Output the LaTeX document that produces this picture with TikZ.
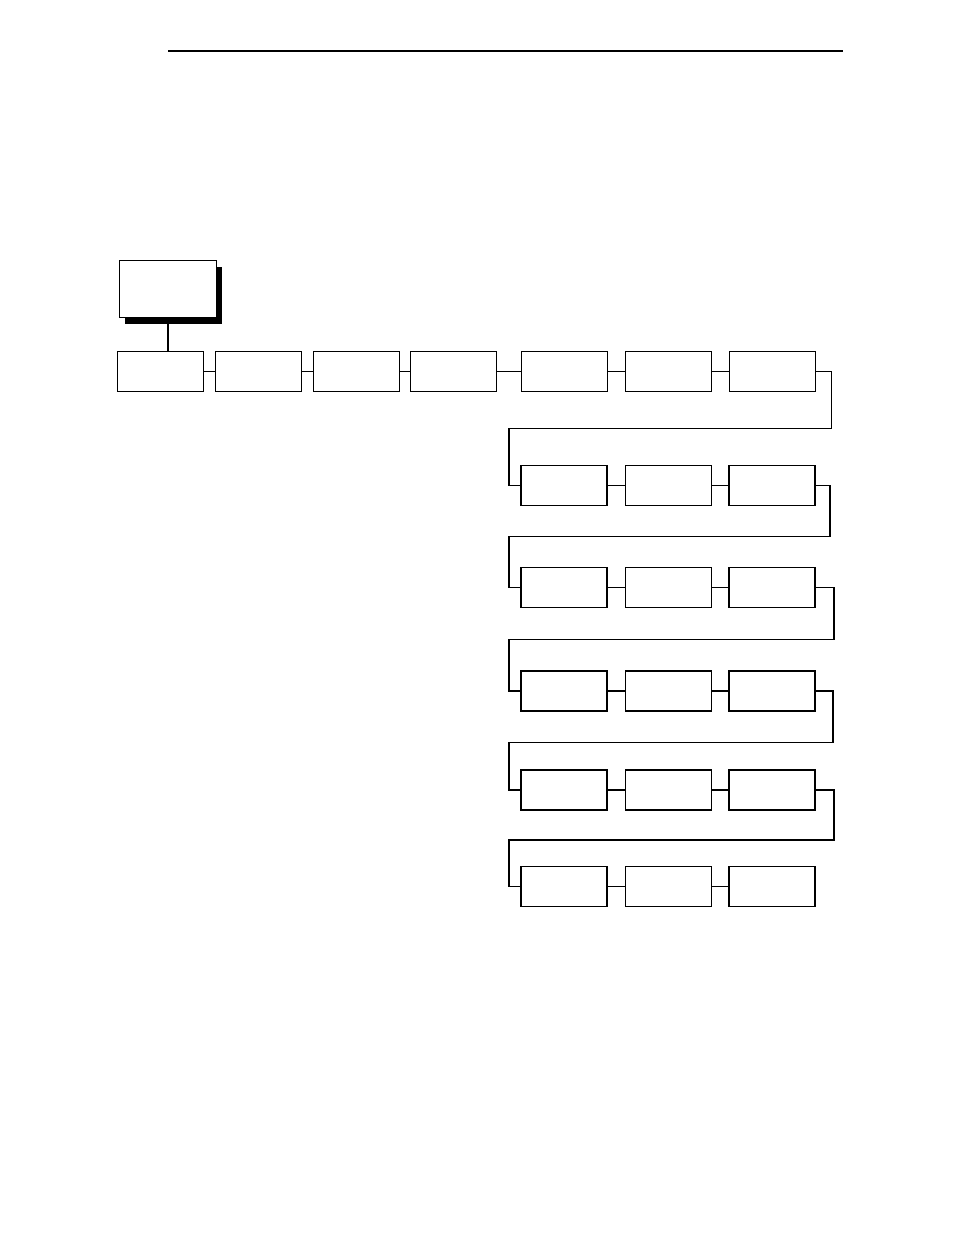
\documentclass[tikz,border=0pt]{standalone}
\usetikzlibrary{calc,shadows}
\begin{document}
\begin{tikzpicture}[x=1pt,y=-1pt,
mb/.style={draw, line width=1.2pt, fill=white, minimum width=86pt, minimum height=40pt, inner sep=0, outer sep=0},
topbox/.style={mb, minimum width=97pt, minimum height=57pt, drop shadow={shadow xshift=5.5pt, shadow yshift=-6pt, fill=black, opacity=1}},
ln/.style={line width=1.2pt}]
	\useasboundingbox (0,0) rectangle (954,1235);
	\draw[line width=2pt] (168,51) -- (843,51);
	\node[topbox] at (168,289) (menu) {};
	% first row
	\foreach \n/\x in {1/160.3,2/258.5,3/356.8,4/453.5,5/564.3,6/668.8,7/772.3}
		\node[mb] at (\x,371.5) (r1c\n) {};
	\draw[ln] (menu.south) -- (menu.south |- r1c1.north);
	\foreach \a/\b in {1/2,2/3,3/4,4/5,5/6,6/7}
		\draw[ln] (r1c\a.east) -- (r1c\b.west);
	% other rows
	\foreach \r/\y in {2/485.8,3/587.8,4/691,5/790,6/886.7} {
		\node[mb] at (564,\y) (r\r c1) {};
		\node[mb] at (668.5,\y) (r\r c2) {};
		\node[mb] at (772,\y) (r\r c3) {};
		\draw[ln] (r\r c1.east) -- (r\r c2.west);
		\draw[ln] (r\r c2.east) -- (r\r c3.west);
	}
	% turns
	\coordinate (t1) at (509,428.3);
	\draw[ln] (r1c7.east) -- ++(16,0) |- (t1) |- (r2c1.west);
	\foreach \p/\r/\dx/\t in {2/3/15/536.7,3/4/19/639.3,4/5/18/742.3,5/6/19/840} {
		\coordinate (t\p) at (509,\t);
		\draw[ln] (r\p c3.east) -- ++(\dx,0) |- (t\p) |- (r\r c1.west);
	}
\end{tikzpicture}
\end{document}
